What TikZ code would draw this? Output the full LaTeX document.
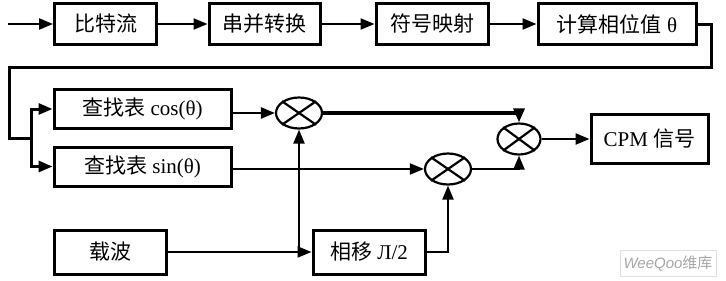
\documentclass[tikz,border=0pt]{standalone}
\usepackage{fontspec}
\setmainfont{Liberation Serif}
\newfontfamily\cjk{Noto Sans CJK SC}
\newfontfamily\wmfont{Liberation Sans}
\usetikzlibrary{arrows.meta,shapes.geometric}
\begin{document}
\begin{tikzpicture}[x=1pt,y=-1pt,
  blk/.style={draw,line width=3pt,minimum height=41pt,inner sep=0pt,font=\fontsize{21}{25}\selectfont},
  mul/.style={draw,ellipse,line width=2.2pt,minimum width=46pt,minimum height=31pt,inner sep=0pt},
  ln/.style={line width=2.3pt},
  thin/.style={line width=1.8pt},
  arr/.style={-{Triangle[length=14pt,width=11pt]}}]
\useasboundingbox (0,0) rectangle (726,281);
% top row
\coordinate (in) at (8,24);
\node[blk,minimum width=102pt] (b1) at (105.5,24) {\cjk 比特流};
\node[blk,minimum width=111pt] (b2) at (264.5,24) {\cjk 串并转换};
\node[blk,minimum width=112pt] (b3) at (432,24) {\cjk 符号映射};
\node[blk,minimum width=158pt] (b4) at (617,24) {{\cjk 计算相位值} θ};
% middle
\node[blk,minimum width=177pt,minimum height=39pt] (cosb) at (142.5,109) {{\cjk 查找表} cos(θ)};
\node[blk,minimum width=177pt,minimum height=39pt] (sinb) at (142.5,166.5) {{\cjk 查找表} sin(θ)};
\node[blk,minimum width=112pt,minimum height=44pt] (car) at (110.5,252) {\cjk 载波};
\node[blk,minimum width=112pt,minimum height=44pt] (sh) at (369,252) {{\cjk 相移} Л/2};
\node[blk,minimum width=117pt,minimum height=49pt] (cpm) at (649.5,138.5) {CPM {\cjk 信号}};
% multipliers
\node[mul] (m1) at (299,113) {};
\node[mul] (m2) at (448,169) {};
\node[mul,minimum width=43pt] (m3) at (519,139) {};
\foreach \m in {m1,m2,m3}{
  \draw[line width=2.2pt] (\m.north west) -- (\m.south east);
  \draw[line width=2.2pt] (\m.north east) -- (\m.south west);
}
% coordinates for routing
\coordinate (fr) at (711,24);
\coordinate (fr2) at (711,67);
\coordinate (fl) at (9,67);
\coordinate (fl2) at (9,138);
\coordinate (br) at (31,138);
% top arrows
\draw[ln,arr] (in) -- (b1);
\draw[ln,arr] (b1) -- (b2);
\draw[ln,arr] (b2) -- (b3);
\draw[ln,arr] (b3) -- (b4);
\draw[line width=3pt,line join=miter] (b4.east) -- (fr) -- (fr2) -- (fl) -- (fl2) -- (br);
\draw[line width=3pt,arr] (br) |- (cosb.west);
\draw[line width=3pt,arr] (br) |- (sinb.west);
% multiplier connections
\draw[ln,arr] (m1 -| cosb.east) -- (m1.west);
\draw[thin,arr] (sinb.east |- m2) -- (m2.west);
\draw[thin,arr] (car.east) -- (sh.west);
\draw[ln,arr] (m1 |- sh.west) -- (m1.south);
\draw[ln,arr] (sh.east) -| (m2.south);
\draw[line width=3.2pt,arr] (m1.east) -| (m3.north);
\draw[ln,arr] (m2.east) -| (m3.south);
\draw[ln,arr] (m3.east) -- (m3.east -| cpm.west);
% watermark
\node[draw=black!12,line width=0.8pt,fill=white,minimum width=96pt,minimum height=26pt,inner sep=0pt,text=black!35,font=\fontsize{15}{17}\selectfont] (wm) at (668,263.5) {{\wmfont\itshape WeeQoo}{\cjk 维库}};
\end{tikzpicture}
\end{document}
